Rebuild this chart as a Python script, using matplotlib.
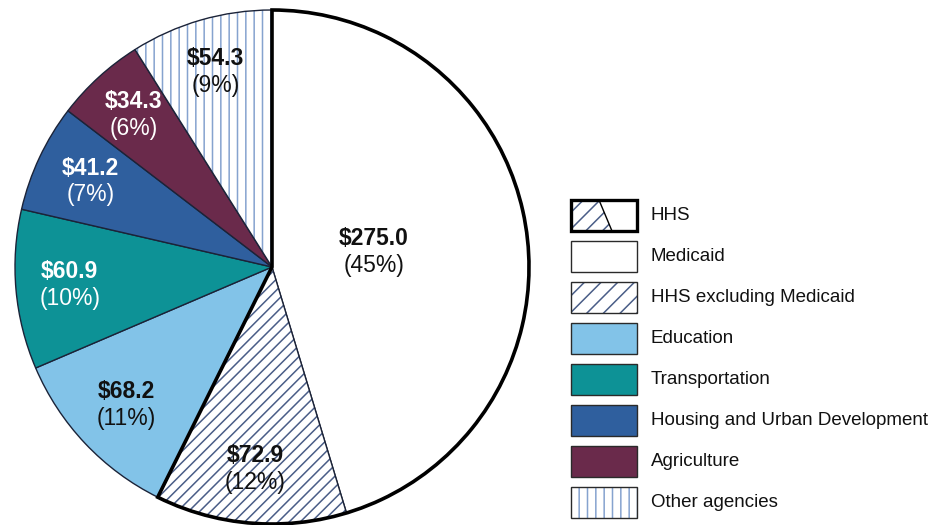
import numpy as np
import matplotlib
matplotlib.use("Agg")
import matplotlib.pyplot as plt
from matplotlib.patches import Wedge, Rectangle, Polygon

plt.rcParams['font.family'] = ['Liberation Sans', 'DejaVu Sans']
plt.rcParams['hatch.linewidth'] = 1.1

# spending by agency, billions of dollars
agencies = ["Medicaid", "HHS excluding Medicaid", "Education", "Transportation",
            "Housing and Urban Development", "Agriculture", "Other agencies"]
amounts = [275.0, 72.9, 68.2, 60.9, 41.2, 34.3, 54.3]
shares = [45, 12, 11, 10, 7, 6, 9]

legend_labels = ["HHS", "Medicaid", "HHS excluding Medicaid", "Education",
                 "Transportation", "Housing and Urban Development", "Agriculture",
                 "Other agencies"]

colors = ["#ffffff", "#ffffff", "#82c3e8", "#0d9296", "#2f5f9e", "#6a2a4b", "#ffffff"]
hatches = [None, "///", None, None, None, None, "||"]
key_hatches = [None, "//", None, None, None, None, "||"]
hatch_colors = [None, "#4a5d87", None, None, None, None, "#86a3cf"]
text_colors = ["#111111", "#111111", "#111111", "white", "white", "white", "#111111"]
label_r = [0.40, 0.79, 0.78, 0.79, 0.78, 0.80, 0.79]
edge = "#1b2338"

W, H = 941, 525
cx, cy, R = 272, 267, 257  # pie centre / radius in pixels

fig = plt.figure(figsize=(W / 100, H / 100), dpi=100)
ax = fig.add_axes([0, 0, 1, 1])

wedges, _ = ax.pie(amounts, colors=colors, startangle=90, counterclock=False,
                   wedgeprops=dict(edgecolor=edge, linewidth=1.0))

# hatched slices: hatch colour follows edge colour, so redraw outline on top
for w, h, hc in zip(wedges, hatches, hatch_colors):
    if h:
        w.set_hatch(h)
        w.set_edgecolor(hc)
        w.set_linewidth(0)
        ax.add_patch(Wedge(w.center, w.r, w.theta1, w.theta2, fill=False,
                           edgecolor=edge, linewidth=1.0))

# thick outline round the whole HHS part
ax.add_patch(Wedge((0, 0), 1, wedges[1].theta1, wedges[0].theta2, fill=False,
                   edgecolor="black", linewidth=2.6, zorder=5))

for w, amt, pct, tc, r in zip(wedges, amounts, shares, text_colors, label_r):
    mid = np.deg2rad((w.theta1 + w.theta2) / 2)
    x, y = r * np.cos(mid), r * np.sin(mid)
    ax.text(x, y + 0.052, f"${amt:.1f}", ha="center", va="center",
            fontsize=16.5, fontweight="bold", color=tc, zorder=6)
    ax.text(x, y - 0.052, f"({pct}%)", ha="center", va="center",
            fontsize=16.5, color=tc, zorder=6)

ax.set_aspect("auto")
ax.set_xlim(-cx / R, (W - cx) / R)
ax.set_ylim(-(H - cy) / R, cy / R)
ax.axis("off")

# legend drawn in pixel coordinates
lax = fig.add_axes([0, 0, 1, 1], facecolor="none")
lax.set_xlim(0, W)
lax.set_ylim(H, 0)
lax.axis("off")

bx, by, bw, bh, pitch = 571, 200, 66, 31, 41
key_fill = ["#ffffff"] + colors
key_hatch = [None] + key_hatches
key_hcol = [None] + hatch_colors
for i, lab in enumerate(legend_labels):
    y0 = by + i * pitch
    if i == 0:
        lax.add_patch(Rectangle((bx, y0), bw, bh, facecolor="white", edgecolor="none"))
        lax.add_patch(Polygon([(bx, y0), (bx + 28, y0), (bx + 41, y0 + bh), (bx, y0 + bh)],
                              closed=True, facecolor="white", edgecolor=hatch_colors[1],
                              linewidth=0, hatch="//"))
        lax.plot([bx + 28, bx + 41], [y0, y0 + bh], color="black", lw=1.0)
        lax.add_patch(Rectangle((bx, y0), bw, bh, fill=False, edgecolor="black",
                                linewidth=2.4))
    else:
        if key_hatch[i]:
            lax.add_patch(Rectangle((bx, y0), bw, bh, facecolor=key_fill[i],
                                    edgecolor=key_hcol[i], linewidth=0, hatch=key_hatch[i]))
        else:
            lax.add_patch(Rectangle((bx, y0), bw, bh, facecolor=key_fill[i],
                                    edgecolor="none"))
        lax.add_patch(Rectangle((bx, y0), bw, bh, fill=False, edgecolor="#2a2a2a",
                                linewidth=1.0))
    lax.text(bx + 80, y0 + bh / 2, lab, ha="left", va="center", fontsize=13.5,
             color="#111111")

fig.savefig("out.png", dpi=100, facecolor="white")
